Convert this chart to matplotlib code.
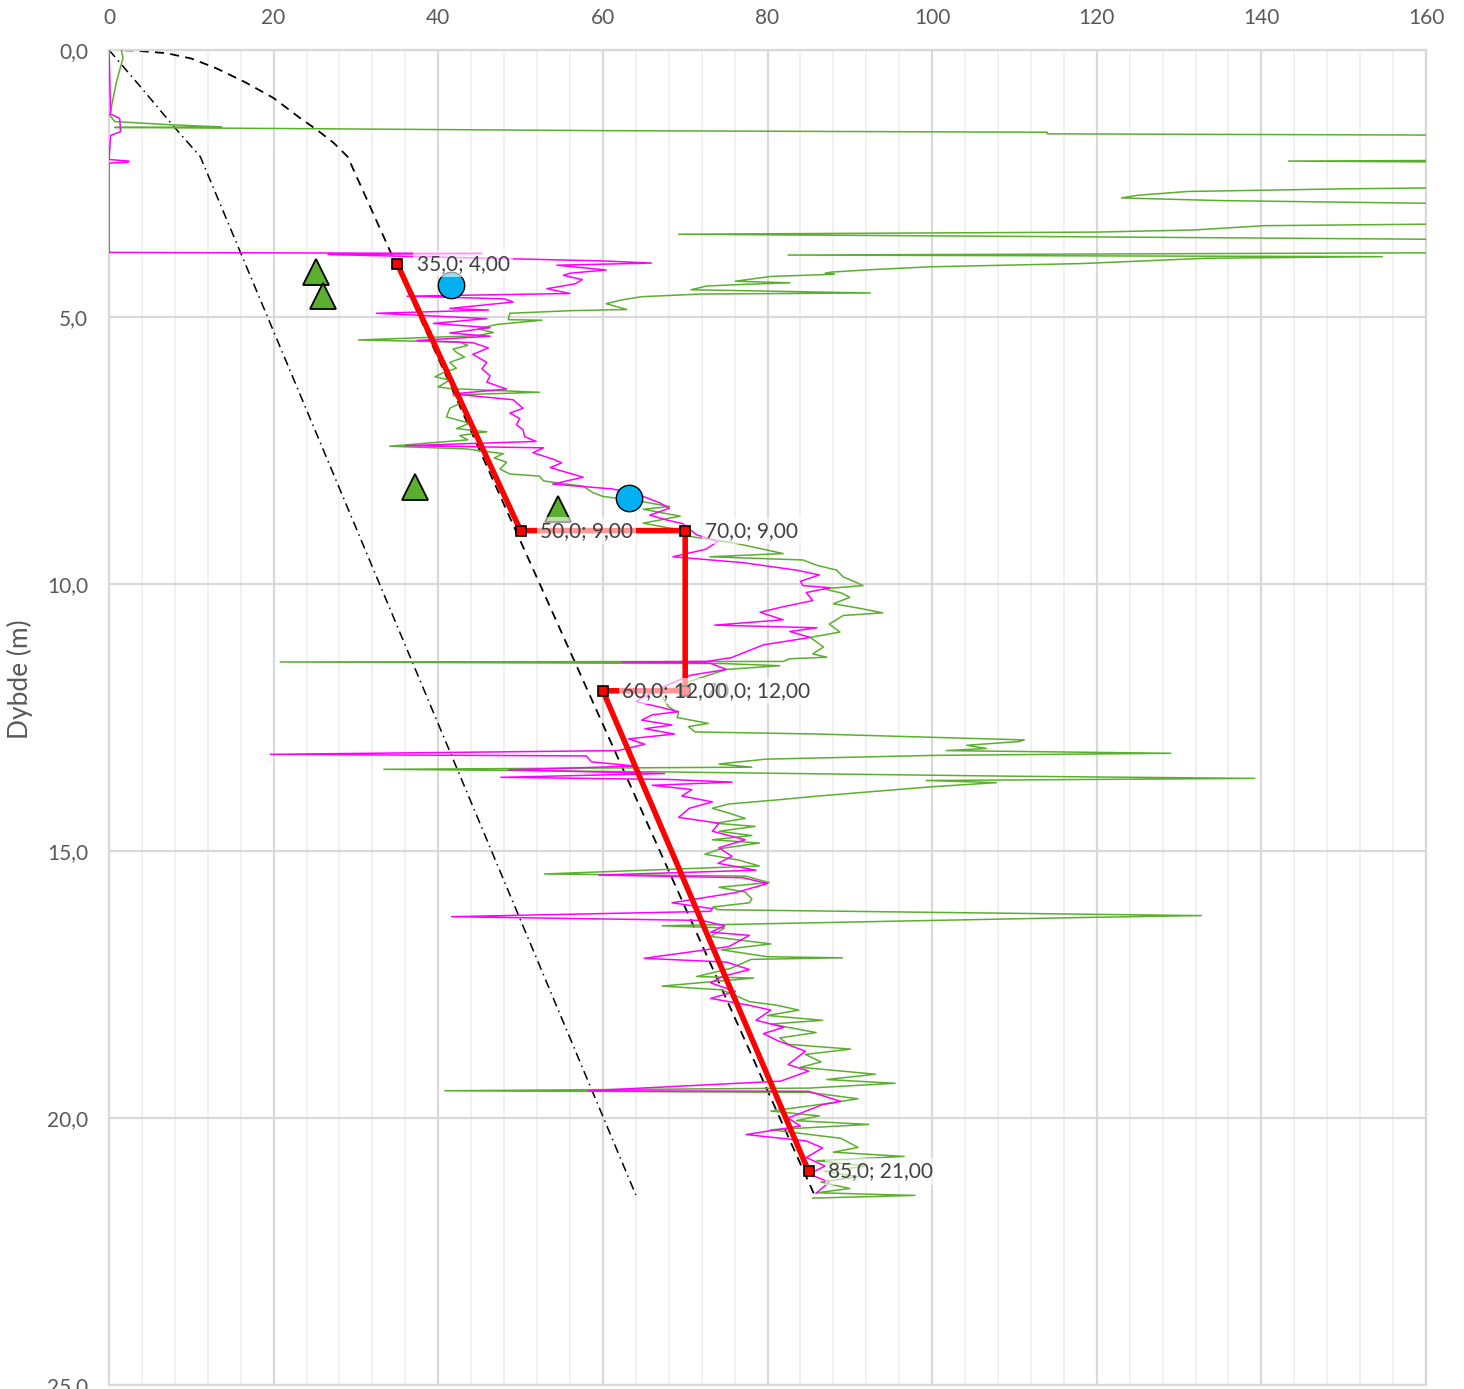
import numpy as np
import matplotlib.pyplot as plt

# CPT-style traces: (depth m, value)
green_trace = [
    (0.00, 1.5), (0.15, 1.7), (0.60, 0.9), (1.22, 0.1), (1.34, 0.7), (1.40, 7.4),
    (1.44, 13.7), (1.45, 0.7), (1.51, 60), (1.54, 114), (1.57, 114), (1.60, 175),
    (2.06, 175), (2.08, 143.3), (2.11, 175), (2.56, 175), (2.60, 150), (2.65, 131),
    (2.72, 125), (2.77, 123), (2.82, 135), (2.90, 175), (3.24, 175), (3.29, 140.3),
    (3.37, 131.9), (3.41, 119.9), (3.45, 69.2), (3.50, 120), (3.56, 175), (3.79, 175),
    (3.84, 82.5), (3.87, 154.7), (3.90, 133.3), (4.00, 118), (4.06, 99.7), (4.12, 91.8),
    (4.16, 87.7), (4.18, 87), (4.20, 88.1), (4.24, 80.4), (4.33, 76.1), (4.36, 82.7),
    (4.39, 77), (4.42, 72.6), (4.49, 70.7), (4.55, 92.5), (4.57, 72), (4.62, 64.7),
    (4.68, 62.3), (4.75, 60.4), (4.86, 62.9), (4.88, 56.4), (4.93, 48.7), (5.05, 48.5),
    (5.06, 52.6), (5.14, 47.1), (5.22, 44.8), (5.29, 46.7), (5.35, 44.7), (5.43, 30.3),
    (5.47, 42.6), (5.53, 43.6), (5.60, 41.8), (5.66, 42.2), (5.75, 43.2), (5.85, 41.4),
    (5.96, 42.2), (6.05, 40.5), (6.12, 39.6), (6.18, 41.4), (6.31, 40.0), (6.34, 41.4),
    (6.41, 52.3), (6.46, 41.8), (6.59, 43.0), (6.71, 41.4), (6.87, 41.0), (6.99, 43.8),
    (7.09, 42.2), (7.15, 45.9), (7.22, 42.6), (7.30, 43.6), (7.42, 34.1), (7.47, 43.4),
    (7.56, 47.9), (7.64, 46.8), (7.72, 48.3), (7.85, 47.5), (7.94, 48.7), (7.98, 52.3),
    (8.07, 52.8), (8.17, 57.6), (8.29, 58.8), (8.36, 60.0), (8.45, 64.5), (8.55, 68.1),
    (8.60, 64.9), (8.73, 69.4), (8.86, 64.9), (8.95, 68), (9.02, 70.5), (9.11, 70.6),
    (9.24, 76.2), (9.43, 81.9), (9.49, 73.0), (9.55, 84.3), (9.65, 86), (9.74, 88.4),
    (9.87, 89.2), (9.95, 90.5), (10.03, 91.6), (10.09, 86.8), (10.17, 89), (10.25, 90.0),
    (10.37, 88.0), (10.45, 91), (10.54, 94.0), (10.59, 89.2), (10.75, 87.5), (10.90, 88.8),
    (11.00, 85.2), (11.18, 86.8), (11.31, 85.5), (11.37, 87.2), (11.40, 82.7), (11.45, 81.9),
    (11.46, 20.8), (11.49, 74.6), (11.53, 81.5), (11.60, 75), (11.82, 70.6), (12.07, 67.0),
    (12.30, 68), (12.42, 69.2), (12.50, 69.0), (12.61, 72.8), (12.67, 70.4), (12.77, 71.2),
    (12.81, 86.2), (12.92, 111.2), (12.95, 110.6), (13.02, 104.2), (13.08, 106.6),
    (13.12, 101.7), (13.17, 129), (13.21, 100), (13.28, 79.8), (13.37, 74.1), (13.43, 78.1),
    (13.47, 33.4), (13.52, 68), (13.60, 110), (13.64, 139.2), (13.68, 99.3), (13.72, 107.8),
    (13.80, 99.7), (13.97, 86.2), (14.04, 81.4), (14.12, 75.3), (14.20, 73.3), (14.30, 75.5),
    (14.39, 77.3), (14.48, 73.7), (14.54, 78.5), (14.63, 74.1), (14.71, 78.1), (14.79, 73.3),
    (14.85, 79.0), (14.95, 74.5), (15.06, 72.4), (15.17, 76.5), (15.28, 79.0), (15.43, 52.9),
    (15.47, 77.3), (15.59, 80.2), (15.68, 74.1), (15.77, 77.3), (15.90, 78.1), (15.97, 77.8),
    (16.05, 73.3), (16.10, 74.0), (16.21, 132.7), (16.24, 120), (16.40, 67.2), (16.44, 74.8),
    (16.60, 73.1), (16.74, 80.4), (16.85, 74.4), (16.98, 80), (17.00, 89.1), (17.03, 78),
    (17.20, 75.5), (17.35, 71.4), (17.38, 78.3), (17.45, 73), (17.53, 67.2), (17.60, 74.4),
    (17.70, 76), (17.82, 77.8), (17.89, 81.2), (17.98, 83.8), (18.08, 80), (18.17, 86.7),
    (18.24, 80.4), (18.40, 85.9), (18.50, 81.5), (18.62, 82.5), (18.71, 90.1), (18.81, 84.6),
    (18.95, 86.5), (19.05, 84), (19.18, 93.1), (19.28, 87.2), (19.35, 95.5), (19.44, 85.0),
    (19.49, 40.8), (19.52, 85), (19.64, 91.0), (19.74, 86.7), (19.87, 80.4), (19.96, 86.3),
    (20.05, 83.5), (20.12, 92.3), (20.22, 80.4), (20.38, 88.9), (20.55, 91.0), (20.64, 88.0),
    (20.72, 96.6), (20.80, 86), (20.90, 92), (21.00, 87), (21.10, 91), (21.20, 86.5),
    (21.32, 90), (21.40, 86), (21.45, 97.9), (21.50, 85.5),
]

magenta_trace = [
    (0.00, 0.0), (1.20, 0.2), (1.28, 1.3), (1.53, 1.4), (1.60, 0.2), (2.05, 0.0),
    (2.08, 2.4), (2.10, 2.35), (2.12, 0.0), (3.79, 0.0), (3.81, 45.3), (3.83, 26.6),
    (3.95, 60), (3.99, 65.9), (4.03, 54.4), (4.12, 60.4), (4.18, 56), (4.22, 55.2),
    (4.30, 57.5), (4.38, 56.6), (4.47, 53.2), (4.56, 56.0), (4.61, 36.2), (4.66, 48),
    (4.72, 49.1), (4.84, 41.4), (4.87, 46.1), (4.93, 32.5), (5.03, 45.9), (5.12, 39.4),
    (5.20, 46.3), (5.30, 41.4), (5.36, 46.3), (5.44, 37.4), (5.48, 44.2), (5.58, 46.1),
    (5.70, 44.2), (5.85, 45.9), (5.97, 45.3), (6.10, 46.3), (6.22, 45.9), (6.35, 48.3),
    (6.44, 41.8), (6.55, 49.1), (6.71, 50.3), (6.80, 48.7), (6.90, 49.9), (7.02, 49.5),
    (7.11, 50.3), (7.24, 50.5), (7.33, 51.9), (7.41, 36.0), (7.45, 52.8), (7.54, 51.5),
    (7.66, 53.9), (7.73, 55.0), (7.82, 53.6), (7.91, 55.6), (8.00, 57.6), (8.13, 53.9),
    (8.22, 61.2), (8.36, 64.9), (8.48, 66.9), (8.58, 68.1), (8.71, 65.7), (8.80, 67.7),
    (8.87, 69.7), (9.08, 71.4), (9.20, 74), (9.35, 72.5), (9.49, 68.5), (9.60, 77.0),
    (9.74, 83.5), (9.83, 86.3), (9.95, 84), (10.03, 84.3), (10.07, 87.6), (10.16, 84.7),
    (10.31, 85.5), (10.44, 81.5), (10.53, 79.1), (10.67, 81.9), (10.77, 73.6), (10.82, 86.0),
    (10.89, 82.7), (11.00, 85.2), (11.14, 79.5), (11.32, 76.6), (11.38, 75.6), (11.45, 72.6),
    (11.46, 62.3), (11.48, 73), (11.60, 75.0), (11.71, 70.6), (11.95, 67), (12.20, 64),
    (12.39, 69.2), (12.45, 66.0), (12.55, 64.7), (12.64, 68.4), (12.71, 65.1), (12.81, 68.7),
    (12.90, 63.1), (13.00, 65.1), (13.12, 61.8), (13.19, 19.6), (13.22, 58), (13.33, 58.6),
    (13.41, 64.0), (13.48, 48.5), (13.55, 67.5), (13.62, 47.6), (13.66, 68), (13.71, 75.7),
    (13.77, 66.0), (13.85, 70.8), (13.97, 69.6), (14.08, 73.3), (14.20, 70.5), (14.37, 69.2),
    (14.48, 74.1), (14.63, 73.3), (14.79, 77.3), (14.94, 74.1), (15.10, 75.7), (15.23, 74.0),
    (15.36, 78.6), (15.45, 59.5), (15.50, 77), (15.61, 80.0), (15.78, 76.1), (15.97, 68.4),
    (16.08, 73.3), (16.13, 73.1), (16.23, 41.6), (16.30, 72), (16.40, 74.8), (16.52, 73.1),
    (16.58, 77.8), (16.79, 75.3), (17.01, 65.0), (17.08, 75), (17.22, 77.8), (17.35, 74.5),
    (17.47, 73.1), (17.63, 76.1), (17.76, 73.1), (17.89, 77.8), (17.98, 80.4), (18.17, 78.6),
    (18.30, 82.0), (18.42, 79.5), (18.55, 81.2), (18.75, 84.6), (19.00, 82.5), (19.12, 85.0),
    (19.31, 81.6), (19.49, 58.2), (19.50, 85.0), (19.69, 88.9), (19.75, 86.7), (20.00, 82.5),
    (20.15, 84), (20.31, 77.4), (20.43, 84.7), (20.56, 86.7), (20.74, 84.7), (20.90, 87),
    (21.05, 85), (21.20, 87.5), (21.41, 85.9),
]

# design line (red), values and depths
design_x = [35, 50, 70, 70, 60, 85]
design_d = [4, 9, 9, 12, 12, 21]

# reference curves
dashed_x = [0, 3, 7, 10, 13, 16.5, 20, 23, 25.3, 27.3, 29, 85.7]
dashed_d = [0, 0.01, 0.06, 0.16, 0.34, 0.6, 0.9, 1.25, 1.5, 1.74, 2.0, 21.44]
dashdot_x = [0, 4, 7.8, 11.1, 64]
dashdot_d = [0, 0.72, 1.42, 2.0, 21.44]

# point observations
tri_x = [25.1, 26.0, 37.2, 54.5]
tri_d = [4.16, 4.6, 8.18, 8.6]
circ_x = [41.5, 63.2]
circ_d = [4.4, 8.39]

g = np.array(green_trace)
m = np.array(magenta_trace)

fig = plt.figure(figsize=(14.64, 13.89), dpi=100)
ax = fig.add_axes([109 / 1464, 4 / 1389, (1426 - 109) / 1464, (1385 - 50) / 1389])

ax.set_xlim(0, 160)
ax.set_ylim(25, 0)
ax.xaxis.tick_top()
ax.set_xticks(np.arange(0, 161, 20))
ax.set_xticks(np.arange(0, 161, 4), minor=True)
ax.set_yticks(np.arange(0, 26, 5))
ax.set_yticklabels([f"{v:.1f}".replace('.', ',') for v in range(0, 26, 5)])
ax.grid(which='major', color='#d9d9d9', lw=1.6, zorder=0)
ax.grid(which='minor', axis='x', color='#efefef', lw=1.2, zorder=0)
ax.tick_params(which='both', length=0, labelsize=15, labelcolor='#595959')
ax.tick_params(axis='x', pad=16)
ax.tick_params(axis='y', pad=15)
for lab in ax.get_xticklabels() + ax.get_yticklabels():
    lab.set_family('Lato')
for s in ax.spines.values():
    s.set_color('#d9d9d9')
    s.set_linewidth(1.6)
ax.set_ylabel('Dybde (m)', fontsize=19, color='#595959', family='Lato')
ax.yaxis.set_label_coords(-0.058, 0.529)

ax.plot(dashed_x, dashed_d, color='black', lw=1.3, ls=(0, (5, 3.5)), zorder=2)
ax.plot(dashdot_x, dashdot_d, color='black', lw=1.1, ls=(0, (6, 3, 1, 3)), zorder=2)

ax.plot(g[:, 1], g[:, 0], color='#5aaf2f', lw=1.1, zorder=3)
ax.plot(m[:, 1], m[:, 0], color='#ff00ff', lw=1.1, zorder=3)

ax.plot(design_x, design_d, color='#ff0000', lw=4, zorder=4,
        marker='s', ms=6.5, mfc='#ff0000', mec='black', mew=1.2)

ax.plot(tri_x, tri_d, ls='none', marker='^', ms=19, mfc='#5aaf2f', mec='black',
        mew=1.3, zorder=5)
ax.plot(circ_x, circ_d, ls='none', marker='o', ms=19, mfc='#00b0f0', mec='black',
        mew=1.0, zorder=5)

# data labels; "70,0; 12,00" drawn before "60,0; 12,00" so the latter lies on top
order = [0, 1, 2, 3, 5, 4]
for i in order:
    x, d = design_x[i], design_d[i]
    txt = f"{x:.1f}; {d:.2f}".replace('.', ',')
    ax.annotate(txt, (x, d), xytext=(14, 0), textcoords='offset points',
                va='center', ha='left', fontsize=15, color='#404040', family='Lato',
                bbox=dict(boxstyle='square,pad=0.15', fc='white', ec='none', alpha=0.6),
                zorder=6)

fig.savefig('out.png', dpi=100)
